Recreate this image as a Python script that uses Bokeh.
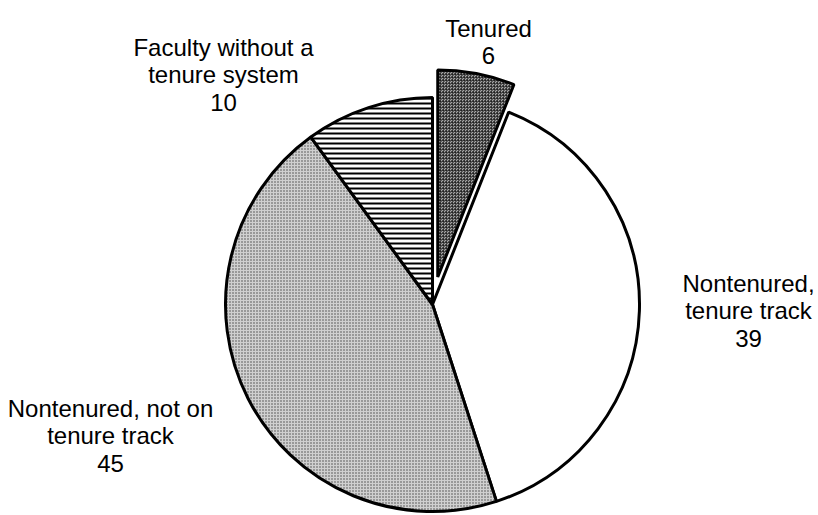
import numpy as np
from bokeh.plotting import figure
from bokeh.models import Range1d, ColumnDataSource
from bokeh.core.properties import value
from bokeh.embed import file_html
from bokeh.resources import INLINE

# ---- data (clockwise from 12 o'clock) ----
categories = ["Tenured", "Nontenured,\ntenure track",
              "Nontenured, not on\ntenure track", "Faculty without a\ntenure system"]
shares = [6, 39, 45, 10]

# ---- styles ----
fill_colors = ["#a8a8a8", "white", "#d0d0d0", "white"]
hatch_patterns = ["criss_cross", " ", "dot", "horizontal_line"]
hatch_colors = ["#1a1a1a", "black", "#444444", "black"]
hatch_scales = [3, 4, 3, 5]
hatch_weights = [0.6, 1, 0.8, 2]
explode = [28, 0, 0, 0]

W, H = 818, 515
p = figure(width=W, height=H, x_range=Range1d(0, W), y_range=Range1d(0, H),
           output_backend="svg", toolbar_location=None, min_border=0)
p.axis.visible = False
p.grid.visible = False
p.outline_line_color = None
p.background_fill_color = "white"
p.border_fill_color = "white"

def X(ix):
    return ix

def Y(iy):
    return H - iy

cx, cy, r = X(432), Y(304), 207

frac = np.array(shares, dtype=float) / sum(shares)
cum = np.concatenate([[0.0], np.cumsum(frac)])
start = np.pi / 2 - 2 * np.pi * cum[1:]
end = np.pi / 2 - 2 * np.pi * cum[:-1]
mid = (start + end) / 2
ex = np.array(explode, dtype=float)

src = ColumnDataSource(dict(
    x=cx + ex * np.cos(mid), y=cy + ex * np.sin(mid),
    start=start, end=end, fill=fill_colors,
))

for i in range(len(shares)):
    s = ColumnDataSource({k: [v[i]] for k, v in src.data.items()})
    kw = {}
    if hatch_patterns[i].strip():
        kw = dict(hatch_pattern=hatch_patterns[i], hatch_color=hatch_colors[i],
                  hatch_scale=hatch_scales[i], hatch_weight=hatch_weights[i])
    p.wedge(x="x", y="y", radius=r, start_angle="start", end_angle="end",
            direction="anticlock", fill_color="fill", line_color="black",
            line_width=3, source=s, **kw)

# ---- labels ----
label_pos = [(488, 28), (748, 283), (110, 408), (223, 47)]  # centre x, first baseline (image px)
line_gap = 27.3
tx, ty, tt = [], [], []
for cat, val, (lx, ly) in zip(categories, shares, label_pos):
    lines = cat.split("\n") + [str(val)]
    for j, ln in enumerate(lines):
        tx.append(X(lx))
        ty.append(Y(ly + j * line_gap))
        tt.append(ln)

p.text(x=tx, y=ty, text=tt, text_align="center", text_baseline="alphabetic",
       text_font=value("Liberation Sans"), text_font_size="24px", text_color="black")

open("out.html", "w").write(file_html(p, INLINE))
